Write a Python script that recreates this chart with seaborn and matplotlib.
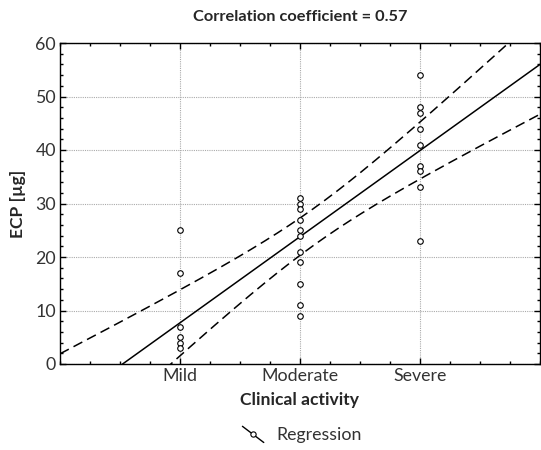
import numpy as np
import pandas as pd
import matplotlib
matplotlib.use("Agg")
import matplotlib.pyplot as plt
import seaborn as sns
from matplotlib.lines import Line2D
from matplotlib.legend_handler import HandlerBase
from matplotlib.ticker import MultipleLocator

# ---- data ----
categories = ["Mild", "Moderate", "Severe"]
mild_ecp = [25, 17, 7, 5, 4, 3]
moderate_ecp = [31, 30, 29, 27, 25, 24, 21, 19, 15, 11, 9]
severe_ecp = [54, 48, 47, 44, 41, 37, 36, 33, 23]
correlation_text = "0.57"
reg_intercept = -8.4   # regression line as drawn in the reference
reg_slope = 16.1
t_95 = 2.064           # t quantile, 24 df

sns.set_style("ticks")
plt.rcParams["font.family"] = ["Lato", "DejaVu Sans"]

groups = [mild_ecp, moderate_ecp, severe_ecp]
df = pd.DataFrame({
    "activity": np.concatenate([[i + 1] * len(g) for i, g in enumerate(groups)]),
    "ecp": np.concatenate(groups),
})

fig = plt.figure(figsize=(5.41, 4.5), dpi=100)
ax = fig.add_axes([60 / 541, 86 / 450, 480 / 541, 321 / 450])

# regression and 95% confidence band
x = df["activity"].to_numpy(float)
y = df["ecp"].to_numpy(float)
n = len(x)
xbar = x.mean()
sxx = ((x - xbar) ** 2).sum()
resid = y - (reg_intercept + reg_slope * x)
s = np.sqrt((resid ** 2).sum() / (n - 2))
xs = np.linspace(0, 4, 200)
fit = reg_intercept + reg_slope * xs
half = t_95 * s * np.sqrt(1 / n + (xs - xbar) ** 2 / sxx)

ax.plot(xs, fit, color="black", lw=1.1, zorder=3)
ax.plot(xs, fit + half, color="black", lw=1.1, dashes=(6.5, 3.5), zorder=3)
ax.plot(xs, fit - half, color="black", lw=1.1, dashes=(6.5, 3.5), zorder=3)

sns.scatterplot(data=df, x="activity", y="ecp", ax=ax, marker="o",
                s=16, facecolor="white", edgecolor="black", linewidth=0.8,
                zorder=4, legend=False)

ax.set_xlim(0, 4)
ax.set_ylim(0, 60)
ax.set_xticks([1, 2, 3])
ax.set_xticklabels(categories)
ax.xaxis.set_minor_locator(MultipleLocator(0.25))
ax.set_yticks(np.arange(0, 61, 10))
ax.yaxis.set_minor_locator(MultipleLocator(2))
ax.tick_params(which="both", direction="in", top=True, right=True,
               colors="black", labelcolor="#333333", labelsize=12.8, width=1)
ax.tick_params(which="major", length=4.5, pad=3)
ax.tick_params(which="minor", length=2.3)
ax.grid(True, which="major", color="#aaaaaa", ls=(0, (1, 1)), lw=0.8)
for sp in ax.spines.values():
    sp.set_color("black")
    sp.set_linewidth(1.0)

ax.set_xlabel("Clinical activity", fontsize=12.6, fontweight="bold")
ax.xaxis.set_label_coords(0.5, (364 - 400) / 321)
ax.xaxis.label.set_va("center")
ax.set_ylabel("ECP [µg]", fontsize=12.6, fontweight="bold")
ax.yaxis.set_label_coords((18 - 60) / 480, (364 - 204) / 321)
ax.yaxis.label.set_va("center")

ax.text(0.5, 1 + (43 - 17) / 321, f"Correlation coefficient = {correlation_text}",
        transform=ax.transAxes, ha="center", va="center",
        fontsize=11.8, fontweight="bold")


class DiagHandler(HandlerBase):
    def create_artists(self, legend, orig_handle, xdescent, ydescent,
                       width, height, fontsize, trans):
        x0, y0 = -xdescent, -ydescent
        ln = Line2D([x0, x0 + width], [y0 + height * 1.1, y0 - height * 0.2],
                    color="black", lw=1.0, transform=trans)
        mk = Line2D([x0 + width * 0.5], [y0 + height * 0.45], marker="o", ms=3.8,
                    mfc="white", mec="black", mew=0.8, ls="none", transform=trans)
        return [ln, mk]


handle = Line2D([], [], color="black")
fig.legend([handle], ["Regression"], handler_map={Line2D: DiagHandler()},
           loc="center", bbox_to_anchor=(302 / 541, 1 - 435 / 450),
           frameon=False, fontsize=12.8, handlelength=1.2, handletextpad=0.7,
           labelcolor="#333333")

fig.savefig("out.png", dpi=100)
